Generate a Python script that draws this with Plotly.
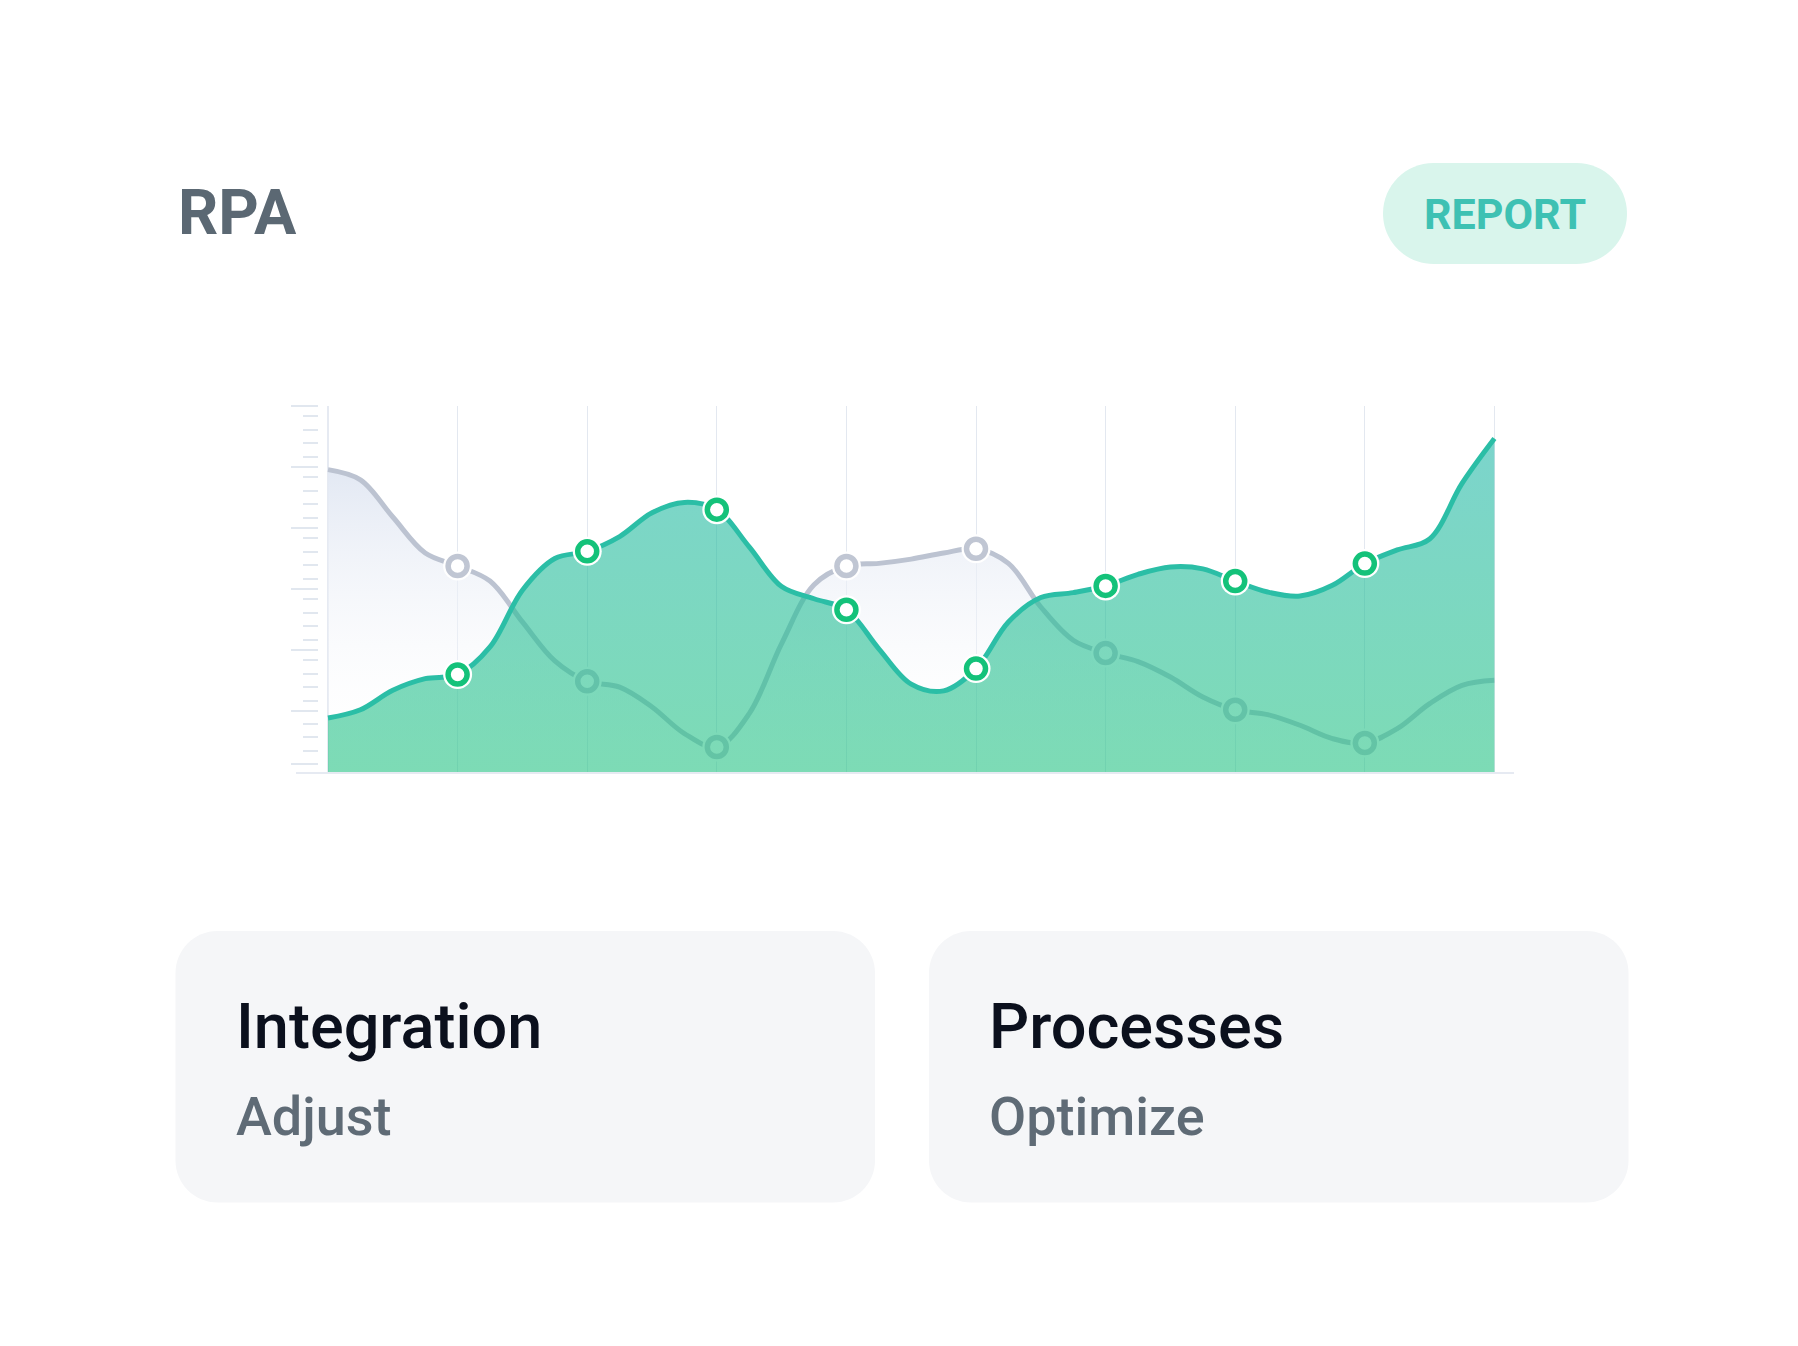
import plotly.graph_objects as go

# data at quarter steps (markers sit on whole steps)
x_pos = [0, 0.25, 0.5, 0.75, 1, 1.25, 1.5, 1.75, 2, 2.25, 2.5, 2.75, 3,
         3.25, 3.5, 3.75, 4, 4.25, 4.5, 4.75, 5, 5.25, 5.5, 5.75, 6,
         6.25, 6.5, 6.75, 7, 7.25, 7.5, 7.75, 8, 8.25, 8.5, 8.75, 9]
green_vals = [8.85, 10.2, 13.4, 15.3, 15.97, 20.5, 29.8, 35.0, 36.18,
              38.6, 42.5, 44.2, 43.0, 36.9, 30.4, 28.4, 26.6, 20.2, 14.4,
              13.3, 16.95, 24.6, 28.6, 29.4, 30.5, 32.4, 33.6, 33.3, 31.3,
              29.5, 28.85, 30.6, 34.16, 36.4, 38.2, 47.3, 54.66]
grey_vals = [49.57, 47.9, 41.8, 35.9, 33.77, 31.3, 24.6, 18.2, 14.87,
             13.9, 10.66, 6.3, 4.1, 9.57, 21.05, 30.7, 33.77, 34.2, 34.9,
             35.9, 36.6, 34.2, 27.05, 21.6, 19.5, 18.1, 15.57, 12.3, 10.2,
             9.4, 7.66, 5.48, 4.75, 7.1, 11.2, 14.2, 15.03]
grid_x = [0, 1, 2, 3, 4, 5, 6, 7, 8, 9]
y_major = [1.3, 10, 20, 30, 40, 50, 60]
y_minor = [3.5, 5.7, 7.9,
           11.7, 13.9, 16.1, 18.3, 21.7, 23.9, 26.1, 28.3,
           31.7, 33.9, 36.1, 38.3, 41.7, 43.9, 46.1, 48.3,
           51.7, 53.9, 56.1, 58.3]

title_text = "RPA"
button_text = "REPORT"
cards = [("Integration", "Adjust"), ("Processes", "Optimize")]

# colours
GREEN_LINE = "#2bbea6"
GREEN_DOT = "#14c27a"
GREY_LINE = "#bcc3d1"
GRID = "#e3e8f0"
AXIS = "#e6eaf2"

# page geometry (pixels); the page body adds an 8px offset
W, H = 1798, 1346
OFF = 8
L, R, T, B = 296 - OFF, 284 + OFF, 406 - OFF, 574 + OFF
PW, PH = W - L - R, H - T - B


def px2x(px):
    return (px - OFF - L) / PW


def px2y(py):
    return (H - B - (py - OFF)) / PH


def rounded_rect(x0, y0, x1, y1, r):
    k = 0.5523 * r
    pts = [
        ("M", [(x0 + r, y0)]),
        ("L", [(x1 - r, y0)]),
        ("C", [(x1 - r + k, y0), (x1, y0 + r - k), (x1, y0 + r)]),
        ("L", [(x1, y1 - r)]),
        ("C", [(x1, y1 - r + k), (x1 - r + k, y1), (x1 - r, y1)]),
        ("L", [(x0 + r, y1)]),
        ("C", [(x0 + r - k, y1), (x0, y1 - r + k), (x0, y1 - r)]),
        ("L", [(x0, y0 + r)]),
        ("C", [(x0, y0 + r - k), (x0 + r - k, y0), (x0 + r, y0)]),
    ]
    path = ""
    for cmd, coords in pts:
        path += cmd + " ".join(f"{px2x(a):.5f},{px2y(b):.5f}" for a, b in coords) + " "
    return path + "Z"


mx = x_pos[4:33:4]
green_m = green_vals[4:33:4]
grey_m = grey_vals[4:33:4]

fig = go.Figure()

# grey series
fig.add_trace(go.Scatter(
    x=x_pos, y=grey_vals, mode="lines",
    line=dict(color=GREY_LINE, width=5, shape="spline", smoothing=1),
    fill="tozeroy",
    fillgradient=dict(type="vertical", start=0, stop=50,
                      colorscale=[[0, "rgba(255,255,255,0)"], [1, "#e2e8f3"]]),
    hoverinfo="skip", showlegend=False))
fig.add_trace(go.Scatter(
    x=mx, y=grey_m, mode="markers",
    marker=dict(size=29, color="white"), hoverinfo="skip", showlegend=False))
fig.add_trace(go.Scatter(
    x=mx, y=grey_m, mode="markers",
    marker=dict(size=19, color="white", line=dict(color="#c0c6d3", width=5.5)),
    hoverinfo="skip", showlegend=False))

# green series
fig.add_trace(go.Scatter(
    x=x_pos, y=green_vals, mode="lines",
    line=dict(color=GREEN_LINE, width=5, shape="spline", smoothing=1),
    fill="tozeroy",
    fillgradient=dict(type="vertical", start=0, stop=55,
                      colorscale=[[0, "rgba(38,195,132,0.6)"],
                                  [1, "rgba(36,184,170,0.6)"]]),
    hoverinfo="skip", showlegend=False))
fig.add_trace(go.Scatter(
    x=mx, y=green_m, mode="markers",
    marker=dict(size=29, color="white"), hoverinfo="skip", showlegend=False))
fig.add_trace(go.Scatter(
    x=mx, y=green_m, mode="markers",
    marker=dict(size=19, color="white", line=dict(color=GREEN_DOT, width=5.5)),
    hoverinfo="skip", showlegend=False))

# header pill + cards
shapes = [dict(type="path", xref="paper", yref="paper",
               path=rounded_rect(1383, 163, 1627, 264, 50.5),
               fillcolor="#d9f5ec", line=dict(width=0))]
card_left = [175.5, 929]
for cl in card_left:
    shapes.append(dict(type="path", xref="paper", yref="paper",
                       path=rounded_rect(cl, 931, cl + 699.5, 1202.5, 42),
                       fillcolor="#f5f6f8", line=dict(width=0)))

annotations = [
    dict(text=title_text, x=px2x(176), y=px2y(212), xref="paper", yref="paper",
         xanchor="left", yanchor="middle", showarrow=False,
         font=dict(family="Roboto", size=63, weight=700, color="#5b6873")),
    dict(text=button_text, x=px2x(1505), y=px2y(214), xref="paper", yref="paper",
         xanchor="center", yanchor="middle", showarrow=False,
         font=dict(family="Roboto", size=43, weight=700, color="#3ec1b3")),
]
for cl, (head, sub) in zip(card_left, cards):
    annotations.append(dict(text=head, x=px2x(cl + 58), y=px2y(1026),
                            xref="paper", yref="paper", xanchor="left",
                            yanchor="middle", showarrow=False,
                            font=dict(family="Roboto", size=63, weight=500,
                                      color="#0b101d")))
    annotations.append(dict(text=sub, x=px2x(cl + 58), y=px2y(1116),
                            xref="paper", yref="paper", xanchor="left",
                            yanchor="middle", showarrow=False,
                            font=dict(family="Roboto", size=54, weight=500,
                                      color="#5f6b76")))

fig.update_layout(
    width=W, height=H, autosize=False,
    margin=dict(l=L, r=R, t=T, b=B, pad=0),
    paper_bgcolor="white", plot_bgcolor="white",
    showlegend=False,
    shapes=shapes, annotations=annotations,
    xaxis=dict(range=[-0.247, 9.151], tickvals=grid_x, showticklabels=False,
               ticks="", showgrid=True, gridcolor=GRID, gridwidth=1.3,
               zeroline=True, zerolinecolor=AXIS, zerolinewidth=2,
               showline=True, linecolor=AXIS, linewidth=2, fixedrange=True),
    yaxis=dict(range=[0, 60], anchor="free", position=px2x(318.3),
               tickmode="array", tickvals=y_major, showticklabels=False,
               ticks="outside", ticklen=27, tickwidth=1.5, tickcolor="#e1e7ef",
               minor=dict(tickmode="array", tickvals=y_minor, ticks="outside",
                          ticklen=15, tickwidth=1.5, tickcolor="#e1e7ef",
                          showgrid=False),
               showgrid=False, zeroline=False, showline=False, fixedrange=True),
)

fig.write_html("out.html", config={"displayModeBar": False})
